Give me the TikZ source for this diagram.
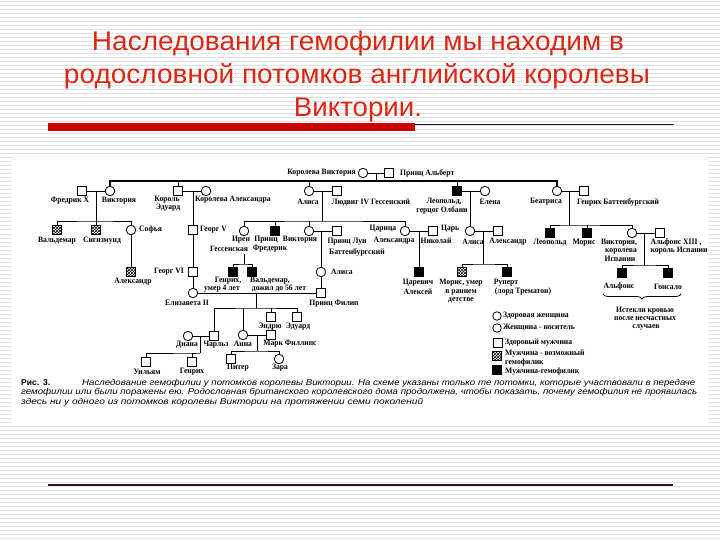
\documentclass[tikz,border=0pt]{standalone}
\usepackage{fontspec}
\setmainfont{Liberation Serif}
\newfontfamily\capfont{Liberation Sans}
\newfontfamily\lblfont[FakeStretch=0.93]{Liberation Serif}
\usetikzlibrary{patterns,decorations.pathreplacing}
\definecolor{titlered}{RGB}{218,40,20}
\definecolor{barred}{RGB}{204,0,0}
\definecolor{stripe}{RGB}{228,228,228}
\definecolor{darkline}{RGB}{60,15,15}
\newcommand{\fitw}[2]{\resizebox{#1}{\height}{#2}}
\tikzset{
  sym/.style={draw, line width=0.8pt, minimum size=9.5pt, inner sep=0pt, outer sep=0pt},
  male/.style={sym, rectangle, fill=white},
  fem/.style={sym, circle, fill=white},
  carrier/.style={fem, path picture={\fill (path picture bounding box.center) circle (1.4pt);}},
  affm/.style={sym, rectangle, fill=black},
  hatm/.style={sym, rectangle, pattern=crosshatch},
  lbl/.style={font=\lblfont\fontsize{8.2}{8.2}\selectfont\bfseries, inner sep=0pt},
  ln/.style={line width=0.9pt},
  mainln/.style={line width=1.3pt},
  ttl/.style={anchor=base, inner sep=0pt, text=titlered, font=\capfont\fontsize{27}{27}\selectfont},
  capt/.style={anchor=base west, inner sep=0pt, font=\capfont\itshape\fontsize{8.5}{8.5}\selectfont},
  captb/.style={anchor=base west, inner sep=0pt, font=\capfont\bfseries\fontsize{8.5}{8.5}\selectfont},
}
\begin{document}
\begin{tikzpicture}[x=1pt,y=-1pt]
\useasboundingbox (0,0) rectangle (720,540);
\fill[white] (0,0) rectangle (720,540);
\foreach \yy in {2,6,...,538} \draw[stripe, line width=1pt] (0,\yy) -- (720,\yy);
\fill[white] (12,156) rectangle (708,425);

% title
\node[ttl] (t1) at (358,51) {\fitw{532pt}{Наследования гемофилии мы находим в}};
\node[ttl] (t2) at (357,84) {\fitw{586pt}{родословной потомков английской королевы}};
\node[ttl] (t3) at (358,117) {\fitw{128pt}{Виктории.}};
\fill[barred] (48,123) rectangle (415,131);
\draw[darkline, line width=1pt] (415,124.5) -- (674,124.5);
\draw[darkline, line width=1.4pt] (48,485) -- (673,485);

% generation 1
\node[carrier] (QV) at (363,173) {};
\node[male] (PA) at (389,173) {};
\node[lbl, anchor=east] at (356,173) {Королева Виктория};
\node[lbl, anchor=west] at (400,173) {Принц Альберт};
\coordinate (top) at (376,181);
\draw[ln] (QV) -- (PA);
\draw[ln] (top |- QV) -- (top);

% generation 2
\node[male] (Fred) at (82,191) {};
\node[carrier] (VicD) at (110,191) {};
\node[male] (Edw) at (178,191) {};
\node[fem] (Alex) at (206,191) {};
\node[carrier] (Alice) at (309,191) {};
\node[male] (Ludwig) at (337,191) {};
\node[affm] (Leop) at (457,191) {};
\node[fem] (Helena) at (485,191) {};
\node[carrier] (Beat) at (557,191) {};
\node[male] (HenB) at (584,191) {};

\draw[mainln] (VicD.north) |- (top) -| (Beat.north);
\draw[ln] (Edw.north) -- (Edw.north |- top);
\draw[ln] (Alice.north) -- (Alice.north |- top);
\draw[ln] (Leop.north) -- (Leop.north |- top);

\node[lbl] at (70,201) {Фредрик X};
\node[lbl] at (119,201) {Виктория};
\node[lbl] at (167,200) {Король};
\node[lbl] at (168,208) {Эдуард};
\node[lbl, anchor=west] at (195,200) {Королева Александра};
\node[lbl] at (308,202) {Алиса};
\node[lbl] at (371,202) {Людвиг IV Гессенский};
\node[lbl] at (444,202) {Леопольд,};
\node[lbl] at (442,210) {герцог Олбани};
\node[lbl] at (490,202) {Елена};
\node[lbl] at (546,202) {Беатриса};
\node[lbl] at (618,202) {Генрих Баттенбургский};

% Danish branch
\node[hatm] (Wald) at (57,230) {};
\node[hatm] (Sigi) at (96,230) {};
\node[fem] (Sofia) at (131,230) {};
\node[hatm] (AlexS) at (131,272) {};
\coordinate (j1) at (96,221);
\draw[ln] (Fred) -- (VicD);
\draw[ln] (j1 |- Fred) -- (j1);
\draw[ln] (Wald.north) |- (j1) -| (Sofia.north);
\draw[ln] (j1) -- (Sigi.north);
\draw[ln] (Sofia) -- (AlexS);
\node[lbl] at (57,241) {Вальдемар};
\node[lbl] at (102,241) {Сигизмунд};
\node[lbl, anchor=west] at (139,230) {Софья};
\node[lbl] at (133,282) {Александр};

% British branch
\node[male] (Georg5) at (193,230) {};
\node[male] (Georg6) at (193,272) {};
\node[fem] (Eliz) at (193,293) {};
\draw[ln] (Edw) -- (Alex);
\draw[ln] (Georg5.north |- Edw) -- (Georg5.north);
\draw[ln] (Georg5) -- (Georg6);
\draw[ln] (Georg6) -- (Eliz);
\node[lbl, anchor=west] at (200,230) {Георг V};
\node[lbl, anchor=east] at (184,272) {Георг VI};
\node[lbl] at (187,303) {Елизавета II};

% Hesse branch
\node[carrier] (Irene) at (244,231) {};
\node[affm] (Fried) at (275,231) {};
\node[fem] (VicH) at (309,231) {};
\node[male] (Louis) at (337,231) {};
\node[carrier] (Alexandra) at (405,231) {};
\node[male] (Nicholas) at (433,231) {};
\coordinate (j2) at (322,221);
\draw[ln] (Alice) -- (Ludwig);
\draw[ln] (j2 |- Alice) -- (j2);
\draw[ln] (Irene.north) |- (j2) -| (Alexandra.north);
\draw[ln] (Fried.north) -- (Fried.north |- j2);
\draw[ln] (VicH.north) -- (VicH.north |- j2);
\node[lbl] at (241,240) {Ирен};
\node[lbl] at (229,249) {Гессенская};
\node[lbl] at (266,240) {Принц};
\node[lbl] at (270,249) {Фредерик};
\node[lbl] at (300,240) {Виктория};
\node[lbl] at (347,242) {Принц Луи};
\node[lbl] at (357,252) {Баттенбургский};
\node[lbl] at (383,229) {Царица};
\node[lbl] at (394,241) {Александра};
\node[lbl, anchor=west] at (441,229) {Царь};
\node[lbl] at (436,241) {Николай};

% Irene's sons
\node[affm] (Henry) at (233,272) {};
\node[affm] (Wald2) at (252,272) {};
\coordinate (j3a) at (244,254);
\coordinate (j3) at (244,264);
\draw[ln] (j3a) -- (j3);
\draw[ln] (Henry.north) |- (j3) -| (Wald2.north);
\node[lbl] at (228,281) {Генрих,};
\node[lbl] at (222,288.5) {умер 4 лет};
\node[lbl] at (270,281) {Вальдемар,};
\node[lbl] at (279,288.5) {дожил до 56 лет};

% Victoria of Hesse line
\node[fem] (AliceB) at (321,272) {};
\node[male] (Philip) at (321,293) {};
\draw[ln] (VicH) -- (Louis);
\draw[ln] (AliceB.north |- VicH) -- (AliceB.north);
\draw[ln] (AliceB) -- (Philip);
\node[lbl, anchor=west] at (331,272) {Алиса};
\node[lbl] at (334,304) {Принц Филип};

% Russian line
\node[affm] (Alexei) at (419,272) {};
\draw[ln] (Alexandra) -- (Nicholas);
\draw[ln] (Alexei.north |- Nicholas) -- (Alexei.north);
\node[lbl] at (418,283) {Царевич};
\node[lbl] at (418,292) {Алексей};

% Elizabeth II family
\node[male] (Charles) at (214,336) {};
\node[fem] (Anne) at (243,335) {};
\node[male] (Andrew) at (271,317) {};
\node[male] (Edward) at (297,317) {};
\coordinate (j4) at (256,308);
\draw[ln] (Eliz) -- (Philip);
\draw[ln] (j4 |- Eliz) -- (j4);
\draw[ln] (Charles.north) |- (j4) -| (Edward.north);
\draw[ln] (Anne.north) -- (Anne.north |- j4);
\draw[ln] (Andrew.north) -- (Andrew.north |- j4);
\node[lbl] at (270,327) {Эндрю};
\node[lbl] at (298,327) {Эдуард};

\node[fem] (Diana) at (188,336) {};
\node[male] (William) at (146,362) {};
\node[male] (Harry) at (192,362) {};
\coordinate (j5) at (200,353);
\draw[ln] (Diana) -- (Charles);
\draw[ln] (j5 |- Diana) -- (j5);
\draw[ln] (William.north) |- (j5) -| (Harry.north);
\node[lbl] at (187,345) {Диана};
\node[lbl] at (216,345) {Чарльз};
\node[lbl] at (147,372) {Уильям};
\node[lbl] at (192,372) {Генрих};

\node[male] (Mark) at (271,335) {};
\node[male] (Peter) at (231,359) {};
\node[fem] (Zara) at (279,359) {};
\coordinate (j6) at (257,351);
\draw[ln] (Anne) -- (Mark);
\draw[ln] (j6 |- Anne) -- (j6);
\draw[ln] (Peter.north) |- (j6) -| (Zara.north);
\node[lbl] at (243,344) {Анна};
\node[lbl] at (290,344) {Марк Филлипс};
\node[lbl] at (238,368) {Питер};
\node[lbl] at (280,368) {Зара};

% Albany branch
\node[carrier] (AliceA) at (470,231) {};
\node[male] (Alexander) at (498,231) {};
\node[hatm] (Maurice) at (462,272) {};
\node[affm] (Rupert) at (507,272) {};
\coordinate (j7) at (483,264);
\draw[ln] (Leop) -- (Helena);
\draw[ln] (AliceA.north |- Leop) -- (AliceA.north);
\draw[ln] (AliceA) -- (Alexander);
\draw[ln] (j7 |- AliceA) -- (j7);
\draw[ln] (Maurice.north) |- (j7) -| (Rupert.north);
\node[lbl] at (473,242) {Алиса};
\node[lbl] at (508,242) {Александр};
\node[lbl] at (461,283) {Морис, умер};
\node[lbl] at (461,292) {в раннем};
\node[lbl] at (461,300) {детстве};
\node[lbl] at (506,283) {Руперт};
\node[lbl] at (523,292) {(лорд Трематон)};

% Battenberg branch
\node[affm] (LeopB) at (550,233) {};
\node[affm] (MauB) at (587,233) {};
\node[carrier] (VicE) at (632,233) {};
\node[male] (Alf13) at (660,233) {};
\coordinate (j8) at (569,225);
\draw[ln] (Beat) -- (HenB);
\draw[ln] (j8 |- Beat) -- (j8);
\draw[ln] (LeopB.north) |- (j8) -| (VicE.north);
\draw[ln] (MauB.north) -- (MauB.north |- j8);
\node[lbl] at (550,243) {Леопольд};
\node[lbl] at (584,243) {Морис};
\node[lbl] at (619,243) {Виктория,};
\node[lbl] at (621,251) {королева};
\node[lbl] at (620,259) {Испании};
\node[lbl] at (676,243) {Альфонс XIII ,};
\node[lbl] at (679,251) {король Испании};

\node[affm] (Alfonso) at (622,273) {};
\node[affm] (Gonzalo) at (668,273) {};
\coordinate (j9) at (644,265);
\draw[ln] (VicE) -- (Alf13);
\draw[ln] (j9 |- VicE) -- (j9);
\draw[ln] (Alfonso.north) |- (j9) -| (Gonzalo.north);
\node[lbl] at (619,287) {Альфонс};
\node[lbl] at (668,287) {Гонсало};
\coordinate (b1) at (603,294);
\coordinate (b2) at (681,294);
\draw[line width=0.8pt, decorate, decoration={brace, mirror, amplitude=5pt}] (b1) -- (b2);
\node[lbl] at (645,311) {Истекли кровью};
\node[lbl] at (645,319) {после несчастных};
\node[lbl] at (646,327) {случаев};

% legend
\node[fem, minimum size=8.5pt] (Lg1) at (497,316) {};
\node[carrier, minimum size=8.5pt] (Lg2) at (497,328) {};
\node[male, minimum size=8.5pt] (Lg3) at (498,343) {};
\node[hatm, minimum size=8.5pt] (Lg4) at (497,356) {};
\node[affm, minimum size=8.5pt] (Lg5) at (497,370) {};
\node[lbl, anchor=west] at (503,316) {Здоровая женщина};
\node[lbl, anchor=west] at (503,328) {Женщина - носитель};
\node[lbl, anchor=west] at (505,343) {Здоровый мужчина};
\node[lbl, anchor=west] at (505,354) {Мужчина - возможный};
\node[lbl, anchor=west] at (505,363) {гемофилик};
\node[lbl, anchor=west] at (505,372) {Мужчина-гемофилик};

% caption
\node[captb] at (21,385) {Рис.};
\node[captb] at (43,385) {3.};
\node[capt] at (82,385) {\fitw{613pt}{Наследование гемофилии у потомков королевы Виктории. На схеме указаны только те потомки, которые участвовали в передаче}};
\node[capt] at (21,394.5) {\fitw{676pt}{гемофилии или были поражены ею. Родословная британского королевского дома продолжена, чтобы показать, почему гемофилия не проявилась}};
\node[capt] at (21,404) {\fitw{402pt}{здесь ни у одного из потомков королевы Виктории на протяжении семи поколений}};
\end{tikzpicture}
\end{document}
